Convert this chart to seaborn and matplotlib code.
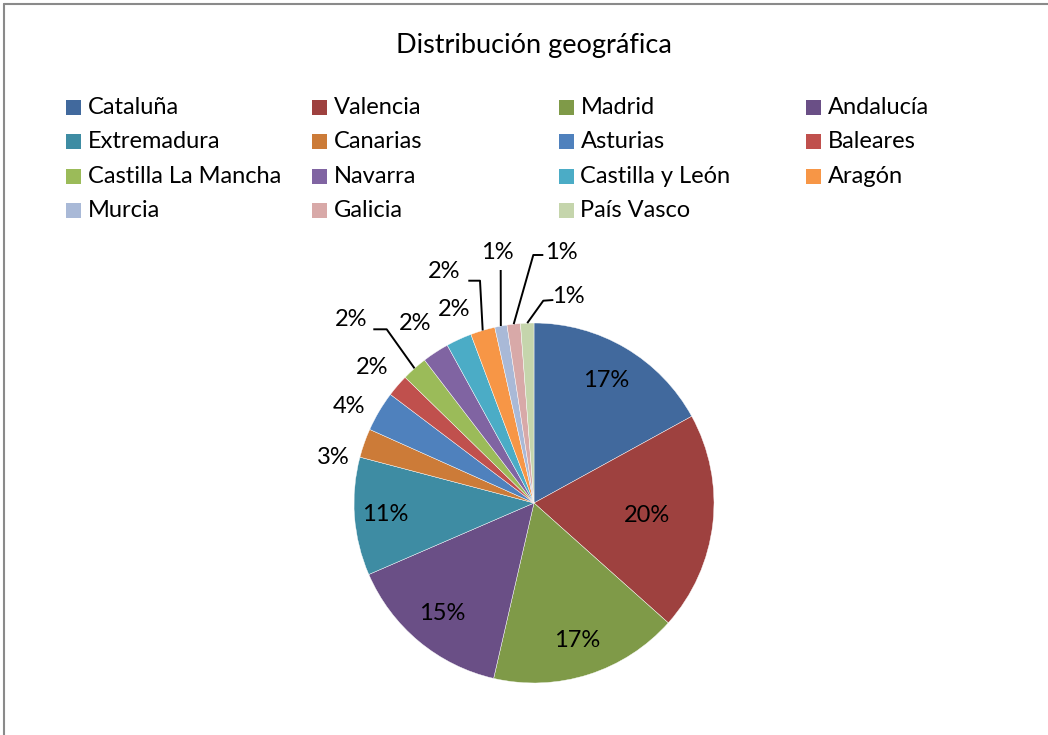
import numpy as np
import matplotlib
matplotlib.use("Agg")
import matplotlib.pyplot as plt
import seaborn as sns
from matplotlib.patches import Rectangle
from matplotlib.lines import Line2D

# ---------------- data ----------------
title = "Distribución geográfica"
regions = ["Cataluña", "Valencia", "Madrid", "Andalucía", "Extremadura",
           "Canarias", "Asturias", "Baleares", "Castilla La Mancha", "Navarra",
           "Castilla y León", "Aragón", "Murcia", "Galicia", "País Vasco"]
shares = [17.0, 19.6, 17.0, 14.9, 10.6, 2.6, 3.6, 2.0, 2.3, 2.4, 2.3, 2.2, 1.1, 1.2, 1.2]
colors = ["#41699D", "#9E413F", "#7F9A48", "#6A4F86", "#3E8CA3", "#CC7B38",
          "#4F81BD", "#C0504D", "#9BBB59", "#8064A2", "#4BACC6", "#F79646",
          "#A9B9D7", "#D8A9A8", "#C5D5AC"]

# ---------------- style / layout ----------------
sns.set_theme(style="white")
plt.rcParams["font.family"] = ["Lato", "DejaVu Sans"]
FS = 17
FS_TITLE = 19.5

W, H = 1048, 735
CX, CY, R = 534, 503, 180   # pie centre / radius in pixels

# label radial fractions for the inner labels
inner_r = {0: 0.79, 1: 0.63, 2: 0.80, 3: 0.80, 4: 0.83}
# outer label centres (px) and leader-line corner points (px)
outer = {
    5: ((333, 458), []),
    6: ((349, 407), []),
    7: ((372, 368), []),
    8: ((351, 320), [(386.7, 329.3), (373.3, 329.3)]),
    9: ((415, 324), []),
    10: ((454, 310), []),
    11: ((444, 272), [(480.0, 280.7), (468.3, 280.7)]),
    12: ((497, 253), [(500.7, 270.0)]),
    13: ((561, 253), [(533.3, 255.0), (543.3, 255.0)]),
    14: ((568, 297), [(543.3, 300.7), (553.3, 300.0)]),
}

fig = plt.figure(figsize=(W / 100, H / 100), dpi=100)
fig.patch.set_facecolor("white")

# pie axes: data unit == R pixels, centred at (CX, CY)
ax = fig.add_axes([0, 0, 1, 1])
wedges, _ = ax.pie(shares, colors=colors, startangle=90, counterclock=False,
                   radius=1.0, wedgeprops=dict(edgecolor="white", linewidth=0.3))
ax.set_aspect("auto")
ax.set_xlim(-CX / R, (W - CX) / R)
ax.set_ylim(-(H - CY) / R, CY / R)
ax.axis("off")


def px2d(p):
    return ((p[0] - CX) / R, (CY - p[1]) / R)


total = sum(shares)
for i, w in enumerate(wedges):
    pct = f"{shares[i] / total * 100 + 1e-9:.0f}%"
    mid = np.deg2rad((w.theta1 + w.theta2) / 2)
    edge = (np.cos(mid), np.sin(mid))
    if i in inner_r:
        r = inner_r[i]
        ax.text(r * np.cos(mid), r * np.sin(mid), pct, ha="center", va="center",
                fontsize=FS, color="black")
    else:
        pos, corners = outer[i]
        x, y = px2d(pos)
        ax.text(x, y, pct, ha="center", va="center", fontsize=FS, color="black")
        if corners:
            pts = [edge] + [px2d(c) for c in corners]
            xs, ys = zip(*pts)
            ax.plot(xs, ys, color="black", lw=1.4, solid_capstyle="butt")

# overlay axes in pixel coordinates for title, legend, frame
ov = fig.add_axes([0, 0, 1, 1], zorder=-1)
ov.set_xlim(0, W)
ov.set_ylim(H, 0)
ov.axis("off")

ov.text(CX, 45, title, ha="center", va="center", fontsize=FS_TITLE, color="black")

col_x = [66, 312, 559, 806]
row_y = [107.3, 141.7, 176.7, 210.8]
SQ = 15
for i, (name, c) in enumerate(zip(regions, colors)):
    r, k = divmod(i, 4)
    x0, yc = col_x[k], row_y[r]
    ov.add_patch(Rectangle((x0, yc - SQ / 2), SQ, SQ, facecolor=c, edgecolor="none"))
    ov.text(x0 + SQ + 6.5, yc, name, ha="left", va="center", fontsize=FS, color="black")

# chart frame (grey border at top and left)
fig.add_artist(Line2D([4 / W, 1.0], [1 - 4 / H, 1 - 4 / H], color="#8a8a8a", lw=1.5))
fig.add_artist(Line2D([4 / W, 4 / W], [0.0, 1 - 4 / H], color="#8a8a8a", lw=1.5))

fig.savefig("out.png", dpi=100, facecolor="white")
